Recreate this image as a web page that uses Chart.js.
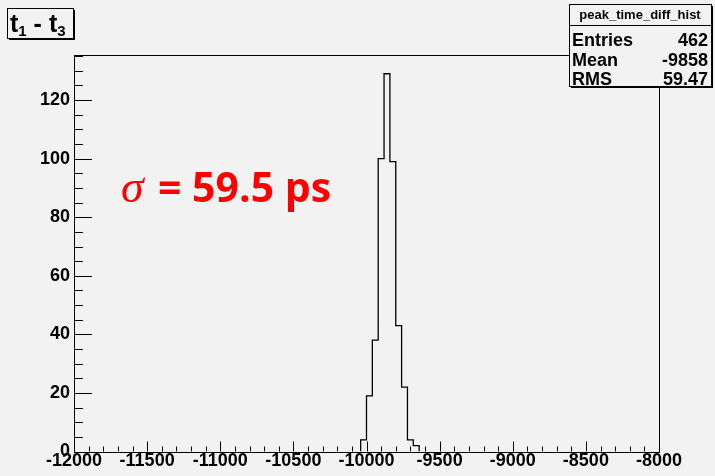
<!DOCTYPE html>
<html>
<head>
<meta charset="utf-8">
<script src="https://cdn.jsdelivr.net/npm/chart.js@4.4.0/dist/chart.umd.min.js"></script>
<style>
  html, body { margin: 0; padding: 0; background: #f2f2f2; }
  #wrap { width: 715px; height: 476px; }
</style>
</head>
<body>
<div id="wrap"><canvas id="c" width="715" height="476"></canvas></div>
<script>
// histogram: lower bin edges, bin width and counts (only non-empty bins)
const binLow = [-10040, -10000, -9960, -9920, -9880, -9840, -9800, -9760, -9720, -9680];
const binWidth = 40;
const counts = [4, 19, 38, 100, 129, 99, 43, 22, 4, 2];

const xTicks = [-12000, -11500, -11000, -10500, -10000, -9500, -9000, -8500, -8000];
const yTicks = [0, 20, 40, 60, 80, 100, 120];
const xMinorStep = 100;
const yMinorStep = 5;

const histName = 'peak_time_diff_hist';
const statNames = ['Entries', 'Mean', 'RMS'];
const statValues = ['462', '-9858', '59.47'];

// outline points of the histogram
const outline = [{ x: binLow[0], y: 0 }];
binLow.forEach((lo, i) => {
    outline.push({ x: lo, y: counts[i] });
    outline.push({ x: lo + binWidth, y: counts[i] });
});
outline.push({ x: binLow[binLow.length - 1] + binWidth, y: 0 });

const labelFont = { family: 'Liberation Sans', size: 18, weight: 'bold' };

const rootStyle = {
    id: 'rootStyle',
    beforeDraw(chart) {
        const ctx = chart.ctx;
        ctx.save();
        ctx.fillStyle = '#f2f2f2';
        ctx.fillRect(0, 0, chart.width, chart.height);
        ctx.restore();
    },
    afterDraw(chart) {
        const ctx = chart.ctx;
        const a = chart.chartArea;
        const xs = chart.scales.x;
        const ys = chart.scales.y;
        ctx.save();

        // frame
        ctx.strokeStyle = '#000';
        ctx.lineWidth = 1;
        ctx.strokeRect(Math.round(a.left) + 0.5, Math.round(a.top) + 0.5,
            Math.round(a.right - a.left), Math.round(a.bottom - a.top));

        // ticks drawn inward
        ctx.beginPath();
        for (let v = xs.min; v <= xs.max + 0.01; v += xMinorStep) {
            const px = Math.round(xs.getPixelForValue(v)) + 0.5;
            const len = xTicks.includes(v) ? 10 : 5;
            ctx.moveTo(px, a.bottom);
            ctx.lineTo(px, a.bottom - len);
        }
        for (let v = 0; v <= ys.max; v += yMinorStep) {
            const py = Math.round(ys.getPixelForValue(v)) + 0.5;
            const len = yTicks.includes(v) ? 18 : 9;
            ctx.moveTo(a.left, py);
            ctx.lineTo(a.left + len, py);
        }
        ctx.stroke();

        // stat box
        const bx = 569, by = 4, bw = 142, bh = 82;
        ctx.fillStyle = '#000';
        ctx.fillRect(bx + 2, by + 2, bw, bh);
        ctx.fillStyle = '#f2f2f2';
        ctx.fillRect(bx, by, bw, bh);
        ctx.strokeRect(bx + 0.5, by + 0.5, bw, bh);
        ctx.beginPath();
        ctx.moveTo(bx, 25.5);
        ctx.lineTo(bx + bw, 25.5);
        ctx.stroke();
        ctx.fillStyle = '#000';
        ctx.font = 'bold 13px "Liberation Sans"';
        ctx.textAlign = 'center';
        ctx.textBaseline = 'alphabetic';
        ctx.fillText(histName, bx + bw / 2, 19);
        ctx.font = 'bold 18px "Liberation Sans"';
        statNames.forEach((n, i) => {
            const yb = 46 + i * 19.5;
            ctx.textAlign = 'left';
            ctx.fillText(n, bx + 3, yb);
            ctx.textAlign = 'right';
            ctx.fillText(statValues[i], bx + bw - 3, yb);
        });

        // title box
        const tx = 7, ty = 8, tw = 66, th = 30;
        ctx.fillStyle = '#000';
        ctx.fillRect(tx + 2, ty + 2, tw, th);
        ctx.fillStyle = '#f2f2f2';
        ctx.fillRect(tx, ty, tw, th);
        ctx.strokeRect(tx + 0.5, ty + 0.5, tw, th);
        ctx.fillStyle = '#000';
        ctx.textAlign = 'left';
        let cx = 10;
        const parts = [['t', 25, 32], ['1', 15, 36], [' - ', 25, 32], ['t', 25, 32], ['3', 15, 36]];
        parts.forEach(([s, size, yb]) => {
            ctx.font = 'bold ' + size + 'px "Liberation Sans"';
            ctx.fillText(s, cx, yb);
            cx += ctx.measureText(s).width;
        });

        // sigma annotation
        ctx.fillStyle = '#ff0000';
        ctx.font = 'italic 46px "Liberation Serif"';
        ctx.fillText('\u03c3', 121, 202);
        ctx.font = 'bold 41px "Open Sans"';
        ctx.fillText('= 59.5 ps', 158, 202);

        ctx.restore();
    }
};

new Chart(document.getElementById('c'), {
    type: 'line',
    data: {
        datasets: [{
            label: histName,
            data: outline,
            borderColor: '#000',
            borderWidth: 1.3,
            pointRadius: 0,
            fill: false,
            tension: 0
        }]
    },
    options: {
        responsive: false,
        animation: false,
        layout: { padding: { top: 55, right: 56, bottom: 0, left: 0 } },
        plugins: { legend: { display: false }, tooltip: { enabled: false } },
        scales: {
            x: {
                type: 'linear',
                min: -12000,
                max: -8000,
                grid: { display: false, drawTicks: false },
                border: { display: false },
                afterBuildTicks: s => { s.ticks = xTicks.map(v => ({ value: v })); },
                afterFit: s => { s.height = 24.5; },
                ticks: {
                    font: labelFont, color: '#000', padding: -1, maxRotation: 0, autoSkip: false,
                    callback: v => String(v)
                }
            },
            y: {
                min: 0,
                max: 135.4,
                grid: { display: false, drawTicks: false },
                border: { display: false },
                afterBuildTicks: s => { s.ticks = yTicks.map(v => ({ value: v })); },
                afterFit: s => { s.width = 74; },
                ticks: { font: labelFont, color: '#000', padding: 4, callback: v => String(v) }
            }
        }
    },
    plugins: [rootStyle]
});
</script>
</body>
</html>
